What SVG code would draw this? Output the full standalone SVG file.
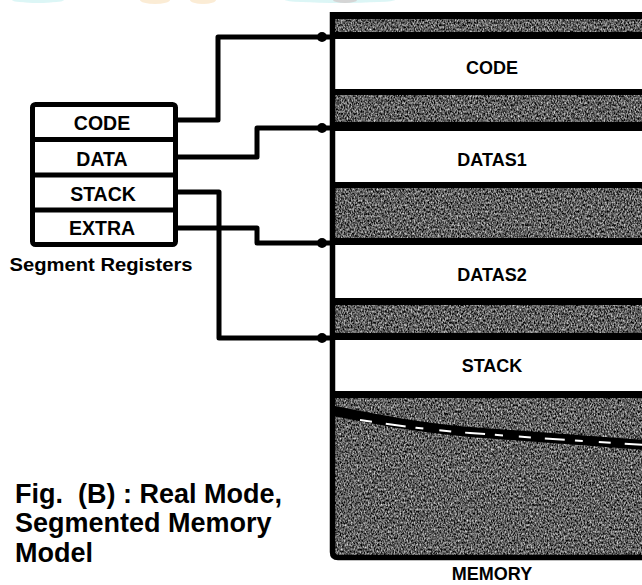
<svg xmlns="http://www.w3.org/2000/svg" width="642" height="585" viewBox="0 0 642 585">
  <defs>
    <filter id="grain" x="0" y="0" width="100%" height="100%" color-interpolation-filters="sRGB">
      <feTurbulence type="fractalNoise" baseFrequency="0.7 0.45" numOctaves="2" seed="7" result="noise"/>
      <feColorMatrix in="noise" type="matrix" values="1.4 0 0 0 -0.33  1.4 0 0 0 -0.33  1.4 0 0 0 -0.33  0 0 0 0 1" result="speckle"/>
      <feComposite in="speckle" in2="SourceGraphic" operator="in"/>
    </filter>
    <clipPath id="page"><rect x="0" y="0" width="642" height="585"/></clipPath>
  </defs>
  <style>
    .lbl { font-family: "Liberation Sans", Arial, sans-serif; font-weight: bold; fill: #000; }
    .reg { font-size: 19.5px; text-anchor: middle; }
    .mem { font-size: 18px; text-anchor: middle; }
    .cap { font-size: 27px; white-space: pre; }
    .wire { fill: none; stroke: #000; stroke-width: 5; stroke-linejoin: round; }
    .rule { stroke: #000; }
  </style>

  <rect width="642" height="585" fill="#fff"/>

  <!-- faint remains of a header strip along the top edge -->
  <g opacity="0.35">
    <ellipse cx="38" cy="0" rx="26" ry="3" fill="#9ee6e6"/>
    <ellipse cx="155" cy="0" rx="15" ry="4" fill="#f5c98a"/>
    <ellipse cx="203" cy="0" rx="13" ry="4" fill="#f5c98a"/>
    <ellipse cx="340" cy="0" rx="55" ry="3" fill="#9ee6e6"/>
    <ellipse cx="345" cy="0" rx="12" ry="3" fill="#888"/>
  </g>

  <!-- memory column -->
  <g id="memory" clip-path="url(#page)">
    <rect x="333" y="14" width="330" height="544" fill="#555" filter="url(#grain)"/>
    <rect x="335" y="39" width="330" height="50" fill="#fff"/>
    <rect x="335" y="131" width="330" height="51" fill="#fff"/>
    <rect x="335" y="245" width="330" height="53" fill="#fff"/>
    <rect x="335" y="340" width="330" height="51" fill="#fff"/>
    <g class="rule">
      <line x1="330" y1="15.5" x2="660" y2="15.5" stroke-width="7"/>
      <line x1="330" y1="35.5" x2="660" y2="35.5" stroke-width="7"/>
      <line x1="330" y1="92" x2="660" y2="92" stroke-width="6"/>
      <line x1="330" y1="126.5" x2="660" y2="126.5" stroke-width="9"/>
      <line x1="330" y1="185" x2="660" y2="185" stroke-width="6"/>
      <line x1="330" y1="241.5" x2="660" y2="241.5" stroke-width="7"/>
      <line x1="330" y1="301.5" x2="660" y2="301.5" stroke-width="7"/>
      <line x1="330" y1="336.5" x2="660" y2="336.5" stroke-width="7"/>
      <line x1="330" y1="394.5" x2="660" y2="394.5" stroke-width="7"/>
    </g>
    <!-- broken-off edge across the lower block -->
    <path d="M334,411 C380,420 420,428 470,432 S580,440 660,446" fill="none" stroke="#000" stroke-width="10"/>
    <path d="M360,420 C400,426 430,430 470,433 S580,441 660,446" fill="none" stroke="#fff" stroke-width="2" stroke-dasharray="12 14 20 10 8 16"/>
    <path d="M332.5,12 V552 Q332.5,557.5 338,557.5 H660" fill="none" stroke="#000" stroke-width="5.5"/>
    <text class="lbl mem" x="492" y="74">CODE</text>
    <text class="lbl mem" x="492" y="166">DATAS1</text>
    <text class="lbl mem" x="492" y="281">DATAS2</text>
    <text class="lbl mem" x="492" y="372">STACK</text>
  </g>
  <text class="lbl mem" x="492" y="580">MEMORY</text>

  <!-- segment register stack -->
  <g id="registers">
    <rect x="32.5" y="104.5" width="143" height="140" rx="3" fill="#fff" stroke="#000" stroke-width="5"/>
    <line x1="32" y1="139.5" x2="176" y2="139.5" stroke="#000" stroke-width="5"/>
    <line x1="32" y1="175" x2="176" y2="175" stroke="#000" stroke-width="5"/>
    <line x1="32" y1="210" x2="176" y2="210" stroke="#000" stroke-width="5"/>
    <text class="lbl reg" x="102" y="130">CODE</text>
    <text class="lbl reg" x="102" y="166">DATA</text>
    <text class="lbl reg" x="103" y="201">STACK</text>
    <text class="lbl reg" x="102" y="235">EXTRA</text>
    <text class="lbl" x="101" y="271" font-size="18.5" text-anchor="middle" textLength="183" lengthAdjust="spacingAndGlyphs">Segment Registers</text>
  </g>

  <!-- register-to-segment connectors -->
  <g id="connectors">
    <path class="wire" d="M176,120 H218 V37 H331"/>
    <path class="wire" d="M176,157 H257 V128 H331"/>
    <path class="wire" d="M176,192 H219 V338 H331"/>
    <path class="wire" d="M176,228 H257 V243 H331"/>
    <circle cx="322" cy="37" r="5"/>
    <circle cx="322" cy="128" r="5"/>
    <circle cx="322" cy="243" r="5"/>
    <circle cx="322" cy="338" r="5"/>
  </g>

  <g id="caption">
    <text class="lbl cap" x="15" y="503">Fig.  (B) : Real Mode,</text>
    <text class="lbl cap" x="15" y="532">Segmented Memory</text>
    <text class="lbl cap" x="15" y="562">Model</text>
  </g>
</svg>
